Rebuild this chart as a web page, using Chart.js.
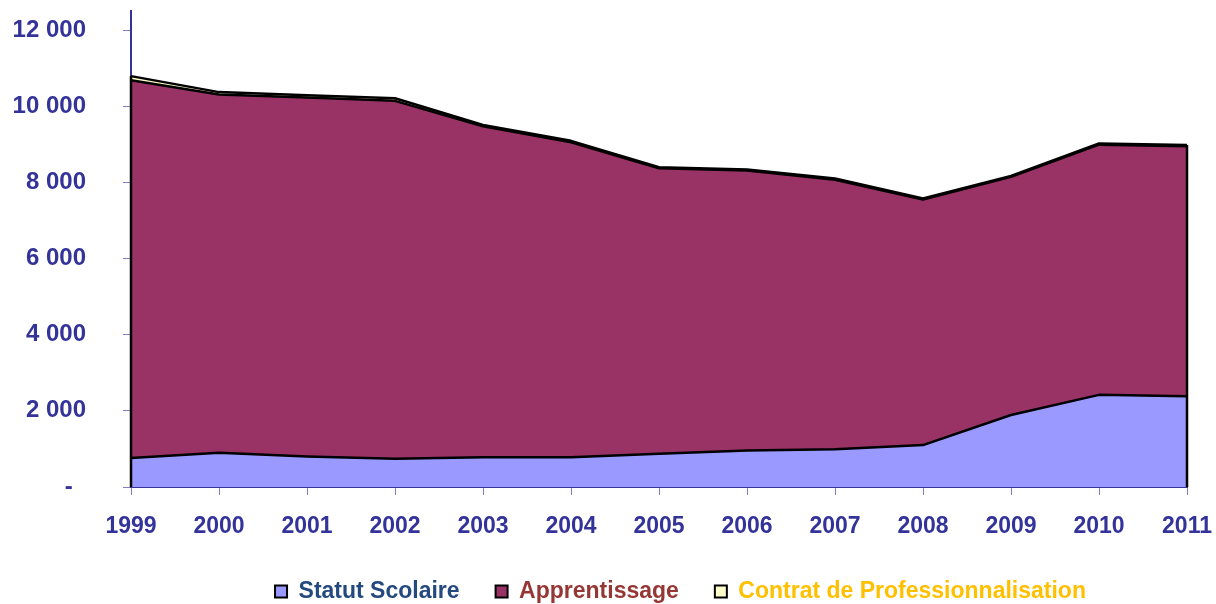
<!DOCTYPE html>
<html>
<head>
<meta charset="utf-8">
<script src="https://cdn.jsdelivr.net/npm/chart.js@4/dist/chart.umd.min.js"></script>
<style>
  html, body { margin: 0; padding: 0; background: #fff; }
  #wrap { width: 1216px; height: 604px; }
</style>
</head>
<body>
<div id="wrap"><canvas id="graficoEffectifs"></canvas></div>
<script>
// données (effectifs par voie de formation)
const annees = ['1999', '2000', '2001', '2002', '2003', '2004', '2005', '2006', '2007', '2008', '2009', '2010', '2011'];
const statutScolaire = [760, 900, 800, 740, 780, 780, 870, 960, 990, 1100, 1890, 2420, 2380];
const apprentissage = [9920, 9410, 9430, 9400, 8690, 8270, 7500, 7350, 7080, 6450, 6255, 6570, 6570];
const contratPro = [110, 60, 60, 70, 40, 40, 30, 30, 30, 30, 25, 30, 30];
const ticksY = [0, 2000, 4000, 6000, 8000, 10000, 12000];

const BLEU_AXE = '#333399';
const POLICE = "'Liberation Sans', Arial, sans-serif";

function formatMilliers(v) {
    if (v === 0) return '-  ';
    return String(v).replace(/\B(?=(\d{3})+(?!\d))/g, ' ');
}

// bords verticaux des aires (début et fin de série), comme dans Excel
const bordsAires = {
    id: 'bordsAires',
    afterDatasetsDraw(chart) {
        let ctx = chart.ctx;
        let metaHaut = chart.getDatasetMeta(chart.data.datasets.length - 1);
        let yZero = chart.scales.y.getPixelForValue(0);
        let n = metaHaut.data.length;
        ctx.save();
        ctx.strokeStyle = '#000';
        ctx.lineWidth = 2.5;
        [metaHaut.data[0], metaHaut.data[n - 1]].forEach(pt => {
            ctx.beginPath();
            ctx.moveTo(pt.x, yZero);
            ctx.lineTo(pt.x, pt.y);
            ctx.stroke();
        });
        ctx.restore();
    }
};

// décale la légende comme dans l'original
const decalageLegende = {
    id: 'decalageLegende',
    afterLayout(chart) {
        let lg = chart.legend;
        if (!lg) return;
        lg.left += 87; lg.right += 87;
        lg.top += 9; lg.bottom += 9;
    }
};

const couleursTexteLegende = ['#24497f', '#953735', '#ffc000'];

new Chart(document.getElementById('graficoEffectifs'), {
    type: 'line',
    data: {
        labels: annees,
        datasets: [
            {
                label: 'Statut Scolaire',
                data: statutScolaire,
                backgroundColor: '#9999ff',
                borderColor: '#000000',
                borderWidth: 2.5,
                fill: 'origin'
            },
            {
                label: 'Apprentissage',
                data: apprentissage,
                backgroundColor: '#993366',
                borderColor: '#000000',
                borderWidth: 2.5,
                fill: '-1'
            },
            {
                label: 'Contrat de Professionnalisation',
                data: contratPro,
                backgroundColor: '#ffffcc',
                borderColor: '#000000',
                borderWidth: 2.5,
                fill: '-1'
            }
        ]
    },
    options: {
        responsive: true,
        maintainAspectRatio: false,
        animation: false,
        layout: { padding: { top: 11, right: 29, left: 0, bottom: 0 } },
        elements: {
            point: { radius: 0, hoverRadius: 0 },
            line: { tension: 0, borderJoinStyle: 'round' }
        },
        scales: {
            x: {
                type: 'category',
                offset: false,
                z: 1,
                afterFit: s => { s.height = 48; s.paddingLeft = 0; s.paddingRight = 0; },
                grid: { drawOnChartArea: false, drawTicks: true, tickLength: 8, color: '#8080c0', lineWidth: 1 },
                border: { display: true, color: BLEU_AXE, width: 2 },
                ticks: {
                    autoSkip: false, maxRotation: 0, padding: 18,
                    color: BLEU_AXE,
                    font: { family: POLICE, size: 23, weight: 'bold' }
                }
            },
            y: {
                stacked: true,
                min: 0,
                max: 12500,
                z: 1,
                afterFit: s => { s.width = 131; s.paddingTop = 0; s.paddingBottom = 0; },
                afterBuildTicks: s => { s.ticks = ticksY.map(v => ({ value: v })); },
                grid: { drawOnChartArea: false, drawTicks: true, tickLength: 8, color: '#8080c0', lineWidth: 1 },
                border: { display: true, color: BLEU_AXE, width: 2 },
                ticks: {
                    padding: 37,
                    color: BLEU_AXE,
                    font: { family: POLICE, size: 24, weight: 'bold' },
                    callback: v => formatMilliers(v)
                }
            }
        },
        plugins: {
            tooltip: { enabled: false },
            legend: {
                position: 'bottom',
                align: 'center',
                labels: {
                    boxWidth: 12,
                    boxHeight: 12,
                    padding: 36,
                    font: { family: POLICE, size: 23, weight: 'bold' },
                    generateLabels: chart => chart.data.datasets.map((ds, i) => ({
                        text: ds.label,
                        fillStyle: ds.backgroundColor,
                        strokeStyle: '#000000',
                        lineWidth: 2,
                        fontColor: couleursTexteLegende[i],
                        hidden: false,
                        datasetIndex: i
                    }))
                }
            }
        }
    },
    plugins: [bordsAires, decalageLegende]
});
</script>
</body>
</html>
